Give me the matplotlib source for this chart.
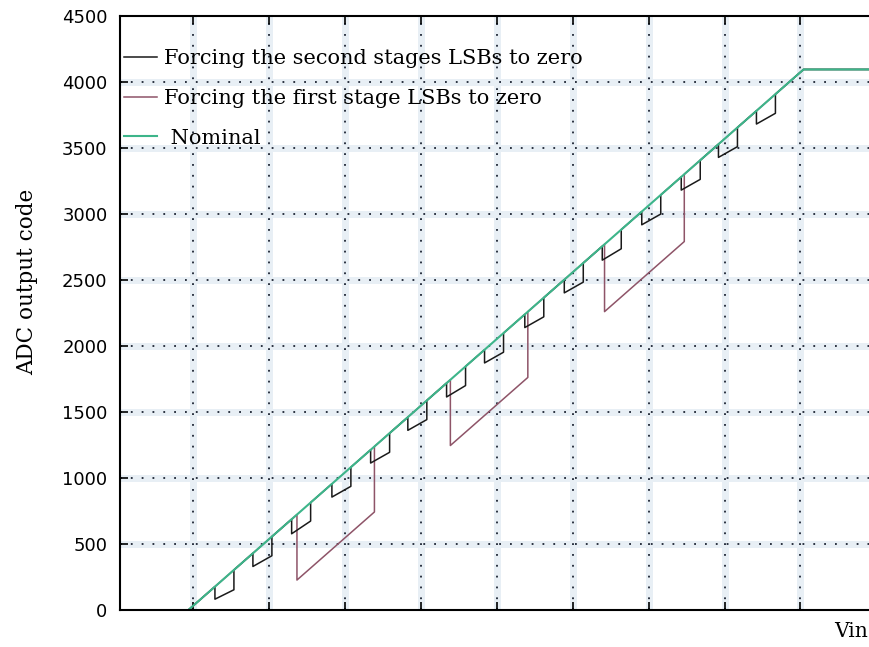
import matplotlib.pyplot as plt
import numpy as np

# nominal transfer curve (Vin in grid units, output code)
nominal_vin = [-0.06, 8.04, 9.6]
nominal_code = [0, 4095, 4095]

# second stage LSBs forced to zero: notch start/end (Vin) and code drops
lsb2_start = [0.29, 0.79, 1.30, 1.83, 2.34, 2.83, 3.34, 3.84, 4.37, 4.89, 5.39, 5.91, 6.43, 6.92, 7.42]
lsb2_end = [0.54, 1.04, 1.55, 2.08, 2.59, 3.08, 3.59, 4.09, 4.62, 5.14, 5.64, 6.16, 6.68, 7.17, 7.67]
lsb2_drop_in = [95, 100, 110, 100, 100, 100, 105, 100, 100, 100, 105, 100, 100, 100, 100]
lsb2_drop_out = [150, 145, 140, 145, 145, 145, 145, 145, 145, 145, 145, 145, 145, 145, 145]

# first stage LSBs forced to zero
lsb1_start = [1.37, 3.39, 5.42]
lsb1_end = [2.39, 4.41, 6.47]
lsb1_drop = [496, 498, 510]

labels = ['Forcing the second stages LSBs to zero',
          'Forcing the first stage LSBs to zero',
          ' Nominal']


def nominal(v):
    return np.interp(v, nominal_vin, nominal_code)


def build_curve(starts, ends, drop_in, drop_out):
    xs = [nominal_vin[0]]
    ys = [nominal_code[0]]
    for s, e, di, do in zip(starts, ends, drop_in, drop_out):
        xs += [s, s, e, e]
        ys += [nominal(s), nominal(s) - di, nominal(e) - do, nominal(e)]
    xs += nominal_vin[1:]
    ys += nominal_code[1:]
    return xs, ys


fig = plt.figure(figsize=(8.7, 6.47), dpi=100)
ax = fig.add_axes([120 / 870, 37 / 647, 802 / 870, 594 / 647])

x2, y2 = build_curve(lsb2_start, lsb2_end, lsb2_drop_in, lsb2_drop_out)
x1, y1 = build_curve(lsb1_start, lsb1_end, lsb1_drop, lsb1_drop)

l2, = ax.plot(x2, y2, color='#1a1a1a', lw=1.1, zorder=4)
l1, = ax.plot(x1, y1, color='#8e5468', lw=1.1, zorder=3)
l0, = ax.plot(nominal_vin, nominal_code, color='#3db58a', lw=1.5, zorder=5)

ax.set_xlim(-0.96, 9.6)
ax.set_ylim(0, 4500)
ax.set_xticks(range(0, 10))
ax.set_yticks(range(0, 4501, 500))

# dotted grid with a faint halo like the scanned original
for v in range(0, 10):
    ax.axvline(v, color='#e8eff5', lw=5, zorder=0)
for c in range(500, 4500, 500):
    ax.axhline(c, color='#e8eff5', lw=5, zorder=0)
ax.grid(True, linestyle=(0, (1, 5)), color='#1c2433', lw=1.3, zorder=1)
ax.set_axisbelow(True)

ax.tick_params(direction='in', length=6, width=1.2, top=True, right=False,
               labelbottom=False, labelsize=13, pad=9)
for side in ['left', 'bottom', 'top']:
    ax.spines[side].set_linewidth(1.5)
    ax.spines[side].set_zorder(6)

ax.legend([l2, l1, l0], labels, loc='upper left', bbox_to_anchor=(124 / 870, 1 - 49 / 647),
          bbox_transform=fig.transFigure, frameon=False, borderpad=0, borderaxespad=0,
          handlelength=1.6, handletextpad=0.3, labelspacing=1.0,
          prop={'family': 'DejaVu Serif', 'size': 15})

fig.text(27 / 870, 1 - 282 / 647, 'ADC output code', rotation=90, ha='center', va='center',
         family='DejaVu Serif', fontsize=15.5)
fig.text(834 / 870, 1 - 637 / 647, 'Vin', ha='left', va='baseline',
         family='DejaVu Serif', fontsize=14.5)

fig.savefig('out.png', dpi=100)
